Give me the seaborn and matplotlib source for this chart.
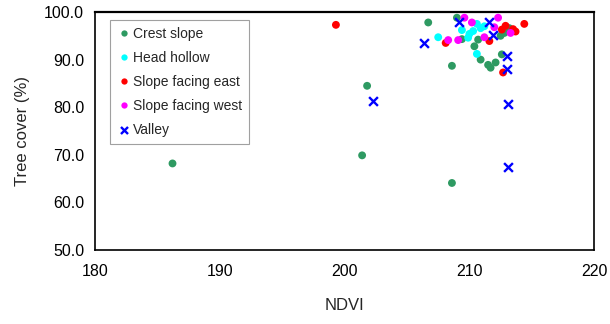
import matplotlib
matplotlib.use("Agg")
import matplotlib.pyplot as plt
import seaborn as sns
import pandas as pd

crest_x = [186.2, 201.4, 201.8, 208.6, 206.7, 209.0, 209.4, 210.7, 210.4, 210.9, 208.6, 211.5, 211.7, 212.1, 212.6, 212.5, 213.2, 212.8]
crest_y = [68.2, 69.9, 84.5, 64.1, 97.8, 98.8, 94.3, 94.2, 92.8, 90.0, 88.7, 88.9, 88.3, 89.4, 91.1, 95.0, 96.6, 95.6]
head_x = [207.5, 209.4, 210.6, 210.9, 210.3, 210.0, 209.9, 210.6, 211.2]
head_y = [94.7, 96.2, 97.5, 96.6, 96.0, 95.4, 94.6, 91.2, 97.0]
east_x = [199.3, 208.1, 211.6, 212.9, 212.6, 213.5, 213.7, 214.4, 212.7]
east_y = [97.3, 93.5, 93.9, 97.1, 96.3, 96.4, 95.9, 97.5, 87.3]
west_x = [208.3, 209.1, 209.6, 210.2, 212.3, 212.0, 211.2, 213.3]
west_y = [94.1, 94.1, 98.8, 97.8, 98.8, 96.8, 94.7, 95.6]
valley_x = [206.4, 209.2, 211.6, 211.9, 213.0, 213.0, 202.3, 213.1, 213.1]
valley_y = [93.5, 97.8, 97.8, 95.2, 90.7, 88.0, 81.4, 80.7, 67.4]

groups = ["Crest slope", "Head hollow", "Slope facing east", "Slope facing west", "Valley"]
colors = ["#2E9A62", "#00FFFF", "#FF0000", "#FF00FF", "#0000FF"]
xs = [crest_x, head_x, east_x, west_x, valley_x]
ys = [crest_y, head_y, east_y, west_y, valley_y]

rows = []
for g, gx, gy in zip(groups, xs, ys):
    for a, b in zip(gx, gy):
        rows.append({"NDVI": a, "Tree cover (%)": b, "group": g})
df = pd.DataFrame(rows)

sns.set_theme(style="white")
plt.rcParams["font.family"] = ["Liberation Sans", "DejaVu Sans"]

fig = plt.figure(figsize=(6.10, 3.24), dpi=100)
ax = fig.add_axes([0.156, 0.228, 0.818, 0.735])

palette = dict(zip(groups, colors))
dots = df[df.group != "Valley"]
sns.scatterplot(data=dots, x="NDVI", y="Tree cover (%)", hue="group", hue_order=groups[:4],
                palette=palette, marker="o", s=32, edgecolor="none", ax=ax, zorder=3)
val = df[df.group == "Valley"]
ax.scatter(val["NDVI"], val["Tree cover (%)"], marker="x", s=40, color=palette["Valley"],
           linewidths=1.7, label="Valley", zorder=3)

ax.set_xlim(180, 220)
ax.set_ylim(50, 100)
ax.set_xticks([180, 190, 200, 210, 220])
ax.set_yticks([50, 60, 70, 80, 90, 100])
ax.set_yticklabels([f"{v:.1f}" for v in [50, 60, 70, 80, 90, 100]])
ax.tick_params(direction="in", length=5, width=1, colors="black", labelsize=11.5, pad=8)
ax.tick_params(axis="x", pad=10)
for s in ax.spines.values():
    s.set_color("black")
    s.set_linewidth(1.2)
ax.spines["top"].set_linewidth(1.6)
ax.set_xlabel("NDVI", fontsize=12, labelpad=14)
ax.set_ylabel("Tree cover (%)", fontsize=12, labelpad=10)

handles, labels = ax.get_legend_handles_labels()
leg = ax.legend(handles, labels, loc="upper left", bbox_to_anchor=(0.022, 0.985), frameon=True, fancybox=False,
                edgecolor="#888888", fontsize=10, handletextpad=0.1, handlelength=1.0,
                labelspacing=0.72, borderpad=0.5, borderaxespad=0.3, markerscale=0.8)
leg.get_frame().set_linewidth(0.8)

fig.savefig("out.png", dpi=100)
